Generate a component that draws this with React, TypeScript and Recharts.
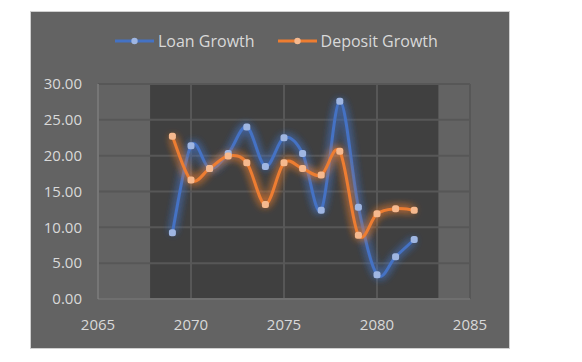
import React from 'react';
import { LineChart, Line, XAxis, YAxis, ReferenceArea, ReferenceLine } from 'recharts';

const years = [2069, 2070, 2071, 2072, 2073, 2074, 2075, 2076, 2077, 2078, 2079, 2080, 2081, 2082];
const loanGrowth = [9.26, 21.4, 18.2, 20.3, 24.0, 18.5, 22.5, 20.3, 12.4, 27.6, 12.8, 3.4, 5.9, 8.3];
const depositGrowth = [22.7, 16.6, 18.2, 19.95, 19.0, 13.2, 19.0, 18.2, 17.3, 20.6, 8.9, 11.9, 12.6, 12.4];
const xTicks = [2065, 2070, 2075, 2080, 2085];
const yTicks = [0, 5, 10, 15, 20, 25, 30];
const bandStart = 2067.8;
const bandEnd = 2083.3;

const data = years.map((y, i) => ({ year: y, loan: loanGrowth[i], deposit: depositGrowth[i] }));

// Excel-like smoothing (Catmull-Rom / cardinal tension 0)
function excelCurve(context: any) {
  let pts: number[][] = [];
  return {
    areaStart() {},
    areaEnd() {},
    lineStart() { pts = []; },
    lineEnd() {
      if (!pts.length) return;
      context.moveTo(pts[0][0], pts[0][1]);
      for (let i = 0; i < pts.length - 1; i++) {
        const p0 = pts[i - 1] || pts[i];
        const p1 = pts[i];
        const p2 = pts[i + 1];
        const p3 = pts[i + 2] || pts[i + 1];
        context.bezierCurveTo(
          p1[0] + (p2[0] - p0[0]) / 6,
          p1[1] + (p2[1] - p0[1]) / 6,
          p2[0] - (p3[0] - p1[0]) / 6,
          p2[1] - (p3[1] - p1[1]) / 6,
          p2[0],
          p2[1]
        );
      }
    },
    point(x: number, y: number) { pts.push([+x, +y]); },
  };
}

const FONT = '"Open Sans", sans-serif';
const TXT = '#d9d9d9';
const GRID = '#575757';

const makeDot = (fill: string) => (props: any) => {
  const { cx, cy, index } = props;
  if (cx == null || cy == null) return <g key={index} />;
  return <rect key={index} x={cx - 3.5} y={cy - 3.5} width={7} height={7} rx={2.5} fill={fill} />;
};

const LegendItem = ({ color, dot, label }: { color: string; dot: string; label: string }) => (
  <div style={{ display: 'flex', alignItems: 'center' }}>
    <svg width={39} height={10} style={{ marginRight: 4 }}>
      <line x1={0} y1={5} x2={39} y2={5} stroke={color} strokeWidth={3} />
      <circle cx={19.5} cy={5} r={3.2} fill={dot} />
    </svg>
    <span style={{ color: TXT, fontSize: 16, fontFamily: FONT }}>{label}</span>
  </div>
);

export default function App() {
  return (
    <div
      style={{
        position: 'relative',
        marginLeft: 22,
        marginTop: 3,
        width: 480,
        height: 338,
        boxSizing: 'border-box',
        border: '1px solid #d0d0d0',
        background: '#636363',
      }}
    >
      <style>{`.glow-blue { filter: url(#glowBlue); } .glow-orange { filter: url(#glowOrange); }`}</style>
      <svg width={0} height={0} style={{ position: 'absolute' }}>
        <defs>
          <filter id="glowBlue" filterUnits="userSpaceOnUse" x={0} y={0} width={600} height={400}>
            <feGaussianBlur in="SourceGraphic" stdDeviation={4} result="b" />
            <feMerge>
              <feMergeNode in="b" />
              <feMergeNode in="b" />
              <feMergeNode in="SourceGraphic" />
            </feMerge>
          </filter>
          <filter id="glowOrange" filterUnits="userSpaceOnUse" x={0} y={0} width={600} height={400}>
            <feGaussianBlur in="SourceGraphic" stdDeviation={4} result="b" />
            <feMerge>
              <feMergeNode in="b" />
              <feMergeNode in="b" />
              <feMergeNode in="SourceGraphic" />
            </feMerge>
          </filter>
        </defs>
      </svg>
      <div style={{ position: 'absolute', left: 84, top: 18, display: 'flex', gap: 23 }}>
        <LegendItem color="#4472C4" dot="#9fb6e2" label="Loan Growth" />
        <LegendItem color="#ED7D31" dot="#f6b98e" label="Deposit Growth" />
      </div>
      <LineChart width={478} height={336} data={data} margin={{ top: 72, right: 39, bottom: 19, left: 7 }}>
        <ReferenceArea x1={bandStart} x2={bandEnd} y1={0} y2={30} fill="#404040" fillOpacity={1} stroke="none" ifOverflow="visible" />
        {yTicks.map((t) => (
          <ReferenceLine key={'h' + t} y={t} stroke={GRID} strokeWidth={2} />
        ))}
        {xTicks.map((t) => (
          <ReferenceLine key={'v' + t} x={t} stroke={GRID} strokeWidth={2} />
        ))}
        <XAxis
          dataKey="year"
          type="number"
          domain={[2065, 2085]}
          ticks={xTicks}
          tickSize={0}
          tickMargin={20}
          axisLine={{ stroke: '#777777', strokeWidth: 1.5 }}
          tick={{ fill: TXT, fontSize: 15, fontFamily: FONT }}
          height={30}
        />
        <YAxis
          type="number"
          domain={[0, 30]}
          ticks={yTicks}
          tickFormatter={(v: number) => v.toFixed(2)}
          tickSize={0}
          tickMargin={16}
          axisLine={{ stroke: '#808080', strokeWidth: 1.5 }}
          tick={{ fill: TXT, fontSize: 15, fontFamily: FONT }}
          width={60}
        />
        <Line
          className="glow-blue"
          dataKey="loan"
          type={excelCurve as any}
          stroke="#4472C4"
          strokeWidth={3}
          dot={makeDot('#9fb6e2')}
          activeDot={false}
          isAnimationActive={false}
        />
        <Line
          className="glow-orange"
          dataKey="deposit"
          type={excelCurve as any}
          stroke="#ED7D31"
          strokeWidth={3}
          dot={makeDot('#f6b98e')}
          activeDot={false}
          isAnimationActive={false}
        />
      </LineChart>
    </div>
  );
}
